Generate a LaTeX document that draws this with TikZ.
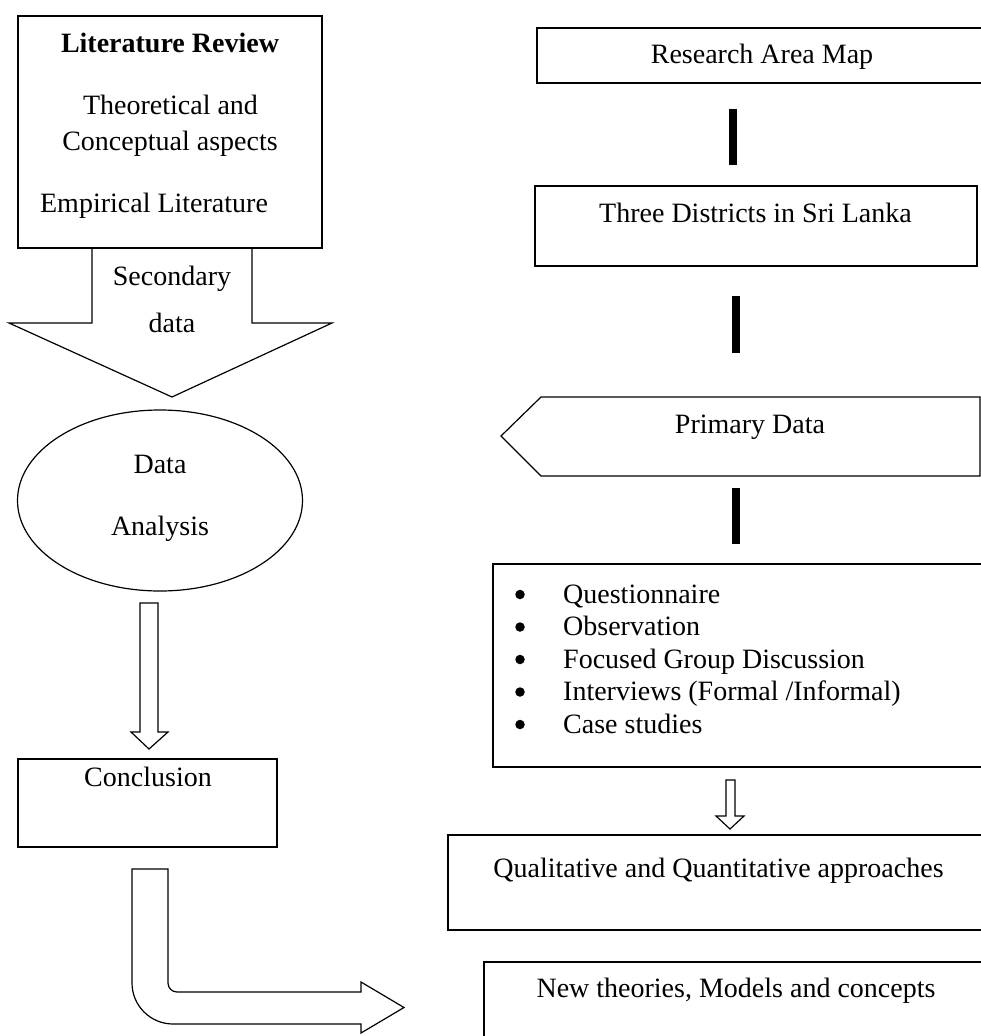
\documentclass[tikz,border=0pt]{standalone}
\usepackage{fontspec}
\setmainfont{Liberation Serif}
\usetikzlibrary{shapes.geometric}
\begin{document}
\begin{tikzpicture}[x=1pt,y=-1pt,
  box/.style={draw, line width=1.2pt, rectangle, inner sep=0pt},
  txt/.style={inner sep=0pt, anchor=base, font=\fontsize{28}{34}\selectfont},
  bar/.style={line width=8.5pt},
  dotmark/.style={circle, fill=black, minimum size=9.5pt, inner sep=0pt},
  blk/.style={draw, line width=1.2pt, line join=miter}]
\clip (0,0) rectangle (981,1036);
\fill[white] (0,0) rectangle (981,1036);
% boxes
\node[box, minimum width=304pt, minimum height=232pt] (lr) at (170,132) {};
\node[box, minimum width=463pt, minimum height=55pt] (ram) at (768.5,55.5) {};
\node[box, minimum width=442pt, minimum height=80pt] (td) at (756,226) {};
\draw[blk] (501,436) -- (541,397) -- (980,397) -- (980,476) -- (541,476) -- cycle;
\coordinate (pdtop) at (736,397);
\coordinate (pdbot) at (736,476);
\node[box, minimum width=507pt, minimum height=203pt] (list) at (746.5,665.5) {};
\node[box, minimum width=552pt, minimum height=95pt] (qual) at (724,882.5) {};
\node[box, minimum width=516pt, minimum height=88pt] (new) at (742,1006) {};
\node[draw, ellipse, line width=1.2pt, minimum width=285pt, minimum height=181pt, inner sep=0pt] (da) at (160,500.5) {};
\node[box, minimum width=259pt, minimum height=88pt] (conc) at (147.5,803) {};
% bars
\coordinate (b1) at (733,0);
\coordinate (b2) at (736,0);
\draw[bar, shorten <=25pt, shorten >=20pt] (ram.south -| b1) -- (td.north -| b1);
\draw[bar, shorten <=29pt, shorten >=44pt] (td.south -| b2) -- (pdtop);
\draw[bar, shorten <=12pt, shorten >=19pt] (pdbot) -- (list.north -| b2);
% block arrows
\draw[blk] (92,248) -- (92,323) -- (9,323) -- (172,397) -- (332,323) -- (252,323) -- (252,248);
\draw[blk] (140,603) -- (140,732) -- (131,732) -- (149,749) -- (168,732) -- (158,732) -- (158,603) -- cycle;
\draw[blk] (726,780) -- (726,816) -- (716,816) -- (730,829) -- (744,816) -- (735,816) -- (735,780) -- cycle;
\draw[blk] (132,869) -- (168,869) -- (168,983) .. controls (168,988) and (172,992) .. (177,992)
  -- (361,992) -- (361,982) -- (404,1007.5) -- (361,1033) -- (361,1024) -- (173,1024)
  .. controls (150.4,1024) and (132,1005.6) .. (132,983) -- cycle;
% texts
\node[txt, font=\fontsize{28}{34}\selectfont\bfseries] (t1) at (170,52) {Literature Review};
\node[txt] (t2) at (170.5,114) {Theoretical and};
\node[txt] (t3) at (170,150) {Conceptual aspects};
\node[txt] (t4) at (154,212) {Empirical Literature};
\node[txt] (t5) at (172,285) {Secondary};
\node[txt] (t6) at (172,332) {data};
\node[txt] (t7) at (160,473) {Data};
\node[txt] (t8) at (160,535) {Analysis};
\node[txt] (t9) at (148,786) {Conclusion};
\node[txt] (t10) at (762,63) {Research Area Map};
\node[txt] (t11) at (755.5,222) {Three Districts in Sri Lanka};
\node[txt] (t12) at (750,433) {Primary Data};
\foreach \i/\s in {0/{Questionnaire},1/{Observation},2/{Focused Group Discussion},3/{Interviews (Formal \slash Informal)},4/{Case studies}}{
  \node[dotmark] (bul\i) at (520,594.5+32.5*\i) {};
  \node[txt, anchor=base west] (li\i) at (563,603+32.5*\i) {\s};
}
\node[txt] (t13) at (718.5,877) {Qualitative and Quantitative approaches};
\node[txt] (t14) at (736,997) {New theories, Models and concepts};
\end{tikzpicture}
\end{document}
